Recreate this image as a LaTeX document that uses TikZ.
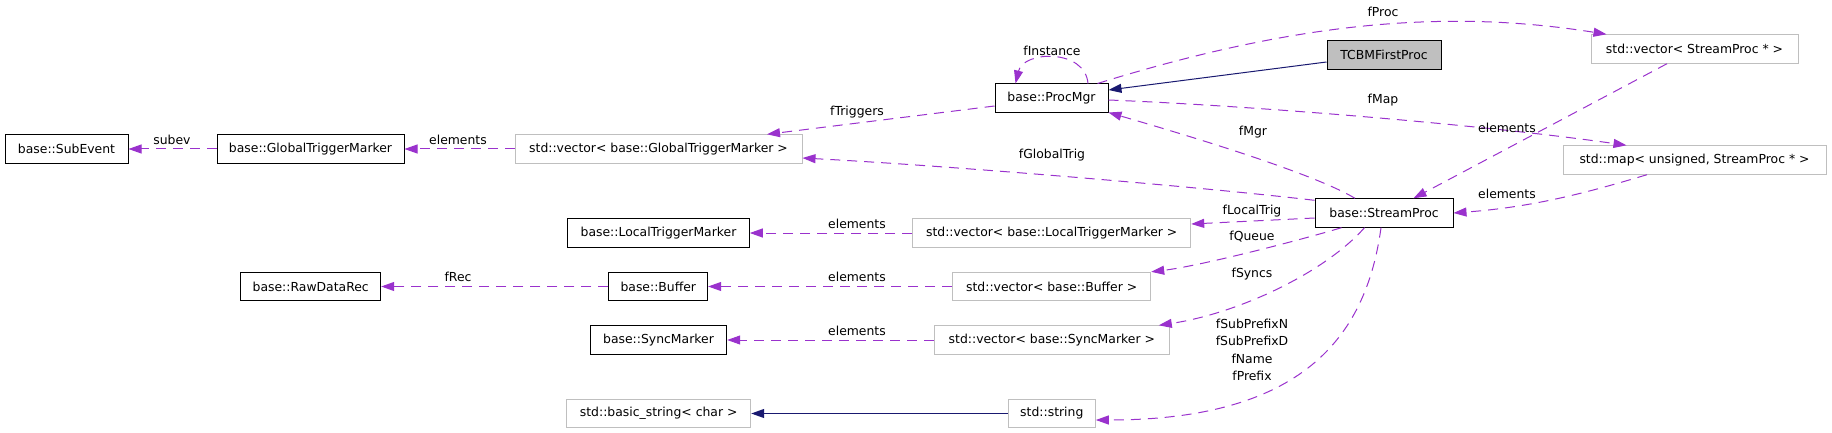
\documentclass[tikz,border=0pt]{standalone}
\usepackage{fontspec}
\setmainfont{DejaVu Sans}
\usetikzlibrary{arrows.meta}
\definecolor{edgepurple}{HTML}{9A32CD}
\definecolor{inhnavy}{HTML}{191970}
\definecolor{boxgray}{HTML}{BFBFBF}
\begin{document}
\begin{tikzpicture}[x=1pt,y=-1pt,
  every node/.style={font=\fontsize{12.4}{15}\selectfont, inner sep=0pt},
  cls/.style={draw=black, line width=1pt, minimum height=28.4pt, fill=white},
  ext/.style={draw=boxgray, line width=1pt, minimum height=28.4pt, fill=white},
  cur/.style={draw=black, line width=1pt, minimum height=28.4pt, fill=boxgray},
  dep/.style={draw=edgepurple, line width=1pt, dash pattern=on 10pt off 7pt, -{Triangle[length=13pt,width=9pt,fill=edgepurple]}},
  inh/.style={draw=inhnavy, line width=1pt, -{Triangle[length=13pt,width=9pt,fill=inhnavy]}},
  lbl/.style={text=black}]
\useasboundingbox (0,0) rectangle (1832,433);
% class boxes
\node[cls, minimum width=123pt] (subevent) at (66.5,149) {base::SubEvent};
\node[cls, minimum width=187pt] (gtm) at (310.5,149) {base::GlobalTriggerMarker};
\node[cls, minimum width=140pt] (rawdata) at (310.7,286.5) {base::RawDataRec};
\node[ext, minimum width=287pt] (gtmvec) at (658.5,149) {std::vector< base::GlobalTriggerMarker >};
\node[cls, minimum width=181.6pt] (ltm) at (658.5,233) {base::LocalTriggerMarker};
\node[cls, minimum width=98.7pt] (buffer) at (658.3,286.5) {base::Buffer};
\node[cls, minimum width=136.4pt] (sync) at (658.5,340) {base::SyncMarker};
\node[ext, minimum width=184pt] (bstring) at (658.7,413.5) {std::basic\_string< char >};
\node[cls, minimum width=113pt, minimum height=29pt] (procmgr) at (1051.5,98.5) {base::ProcMgr};
\node[ext, minimum width=278pt] (ltmvec) at (1051.7,233) {std::vector< base::LocalTriggerMarker >};
\node[ext, minimum width=198pt] (bufvec) at (1051.7,286.5) {std::vector< base::Buffer >};
\node[ext, minimum width=235pt] (syncvec) at (1051.8,340) {std::vector< base::SyncMarker >};
\node[ext, minimum width=87pt] (string) at (1051.8,413.5) {std::string};
\node[cur, minimum width=114pt] (tcbm) at (1384,55) {TCBMFirstProc};
\node[cls, minimum width=138pt] (sp) at (1384,213) {base::StreamProc};
\node[ext, minimum width=207pt] (vecsp) at (1694.5,49) {std::vector< StreamProc * >};
\node[ext, minimum width=263pt] (map) at (1694.5,160) {std::map< unsigned, StreamProc * >};
% edges
\draw[dep] (gtm.west) -- (subevent.east);
\draw[dep] (gtmvec.west) -- (gtm.east);
\draw[dep] ([yshift=-7.5pt]procmgr.west) -- ([xshift=108.5pt]gtmvec.north);
\draw[dep] ([yshift=-2pt]sp.north west) .. controls +(-120,-14) and +(150,8) .. ([yshift=-9pt]gtmvec.east);
\draw[dep] ([xshift=-29pt]sp.north) .. controls +(-45,-27) and +(62,18) .. ([yshift=1pt]procmgr.south east);
\draw[dep] ([xshift=36.5pt]procmgr.north) .. controls +(-3,-35) and +(8,-33) .. ([xshift=-36pt]procmgr.north);
\draw[inh] ([yshift=-7pt]tcbm.west) -- ([yshift=8.5pt]procmgr.east);
\draw[dep] ([xshift=-11pt]procmgr.north east) .. controls +(203,-63) and +(-157,-25) .. ([xshift=16pt]vecsp.north west);
\draw[dep] ([yshift=-1.5pt]procmgr.east) .. controls +(150,6) and +(-140,-20) .. ([xshift=64pt]map.north west);
\draw[dep] ([xshift=-27.5pt]vecsp.south) -- ([xshift=-40pt]sp.north east);
\draw[dep] ([xshift=-47.5pt]map.south) .. controls +(-60,18) and +(80,-6) .. (sp.east);
\draw[dep] ([yshift=-5pt]sp.west) -- ([yshift=9pt]ltmvec.east);
\draw[dep] ([xshift=27pt]sp.south west) .. controls +(-40,12) and +(50,-6) .. (bufvec.north east);
\draw[dep] ([xshift=50pt]sp.south west) .. controls +(-40,45) and +(80,-12) .. ([xshift=-11pt]syncvec.north east);
\draw[dep] ([xshift=-3pt]sp.south) .. controls +(-15,110) and +(206,0) .. ([yshift=-6.5pt]string.east);
\draw[dep] (ltmvec.west) -- (ltm.east);
\draw[dep] (bufvec.west) -- (buffer.east);
\draw[dep] (syncvec.west) -- (sync.east);
\draw[dep] (buffer.west) -- (rawdata.east);
\draw[inh] (string.west) -- (bstring.east);
% labels
\node[lbl] (lsubev) at (172,140) {subev};
\node[lbl] (lgtmel) at (458,140) {elements};
\node[lbl] (ltrig) at (857,112) {fTriggers};
\node[lbl] (linst) at (1052,51) {fInstance};
\node[lbl] (lproc) at (1383,12) {fProc};
\node[lbl] (lmap) at (1383,100) {fMap};
\node[lbl] (lmgr) at (1253,132) {fMgr};
\node[lbl] (lglob) at (1052,155) {fGlobalTrig};
\node[lbl] (lvecel) at (1507,128) {elements};
\node[lbl] (lmapel) at (1507,194) {elements};
\node[lbl] (lloc) at (1252,211) {fLocalTrig};
\node[lbl] (lqueue) at (1252,237) {fQueue};
\node[lbl] (lsyncs) at (1252,274) {fSyncs};
\node[lbl, align=center, font=\fontsize{12.4}{17.5}\selectfont] (lstr) at (1252,350) {fSubPrefixN\\fSubPrefixD\\fName\\fPrefix};
\node[lbl] (lltmel) at (857,224) {elements};
\node[lbl] (lbufel) at (857,277) {elements};
\node[lbl] (lsyncel) at (857,331) {elements};
\node[lbl] (lrec) at (458,277) {fRec};
\end{tikzpicture}
\end{document}
